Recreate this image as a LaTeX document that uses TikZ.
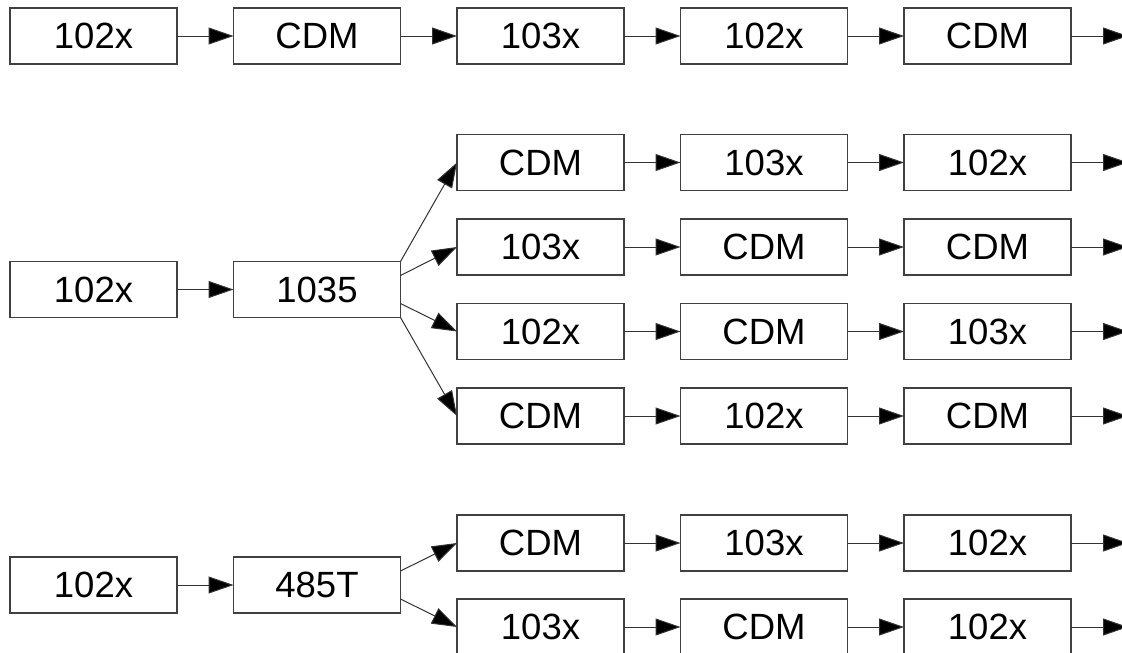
\documentclass[tikz,border=0pt]{standalone}
\usepackage{fontspec}
\setmainfont{Liberation Sans}
\usetikzlibrary{arrows.meta,calc}
\begin{document}
\begin{tikzpicture}[x=1pt,y=-1pt,
  box/.style={draw=black!75,line width=1.3pt,fill=white,minimum width=167pt,minimum height=56pt,inner sep=0pt,outer sep=0pt,font=\fontsize{36.5}{40}\selectfont},
  arr/.style={draw=black!80,line width=1pt,-{Triangle[length=25pt,width=17pt,fill=black]}}]
\useasboundingbox (0,0) rectangle (1122,653);
% top row
\node[box] (a1) at (93.5,36) {102x};
\node[box] (a2) at (317,36) {CDM};
\node[box] (a3) at (540.5,36) {103x};
\node[box] (a4) at (764,36) {102x};
\node[box] (a5) at (987.5,36) {CDM};
\coordinate (a6) at (1128,36);
\draw[arr] (a1) -- (a2);
\draw[arr] (a2) -- (a3);
\draw[arr] (a3) -- (a4);
\draw[arr] (a4) -- (a5);
\draw[arr] (a5) -- (a6);
% middle group
\node[box] (m1) at (93.5,289.5) {102x};
\node[box] (m2) at (317,289.5) {1035};
\draw[arr] (m1) -- (m2);
\node[box] (p1) at (540.5,162.5) {CDM};
\node[box] (p2) at (764,162.5) {103x};
\node[box] (p3) at (987.5,162.5) {102x};
\coordinate (p4) at (1128,162.5);
\node[box] (q1) at (540.5,247) {103x};
\node[box] (q2) at (764,247) {CDM};
\node[box] (q3) at (987.5,247) {CDM};
\coordinate (q4) at (1128,247);
\node[box] (r1) at (540.5,331.5) {102x};
\node[box] (r2) at (764,331.5) {CDM};
\node[box] (r3) at (987.5,331.5) {103x};
\coordinate (r4) at (1128,331.5);
\node[box] (s1) at (540.5,416) {CDM};
\node[box] (s2) at (764,416) {102x};
\node[box] (s3) at (987.5,416) {CDM};
\coordinate (s4) at (1128,416);
\draw[arr] (m2.north east) -- (p1.west);
\draw[arr] ($(m2.north east)!0.25!(m2.south east)$) -- (q1.west);
\draw[arr] ($(m2.north east)!0.75!(m2.south east)$) -- (r1.west);
\draw[arr] (m2.south east) -- (s1.west);
\foreach \r in {p,q,r,s}{
  \draw[arr] (\r1) -- (\r2);
  \draw[arr] (\r2) -- (\r3);
  \draw[arr] (\r3) -- (\r4);
}
% bottom group
\node[box] (b1) at (93.5,585) {102x};
\node[box] (b2) at (317,585) {485T};
\draw[arr] (b1) -- (b2);
\node[box] (u1) at (540.5,543) {CDM};
\node[box] (u2) at (764,543) {103x};
\node[box] (u3) at (987.5,543) {102x};
\coordinate (u4) at (1128,543);
\node[box] (v1) at (540.5,627) {103x};
\node[box] (v2) at (764,627) {CDM};
\node[box] (v3) at (987.5,627) {102x};
\coordinate (v4) at (1128,627);
\draw[arr] ($(b2.north east)!0.25!(b2.south east)$) -- (u1.west);
\draw[arr] ($(b2.north east)!0.75!(b2.south east)$) -- (v1.west);
\foreach \r in {u,v}{
  \draw[arr] (\r1) -- (\r2);
  \draw[arr] (\r2) -- (\r3);
  \draw[arr] (\r3) -- (\r4);
}
\end{tikzpicture}
\end{document}
